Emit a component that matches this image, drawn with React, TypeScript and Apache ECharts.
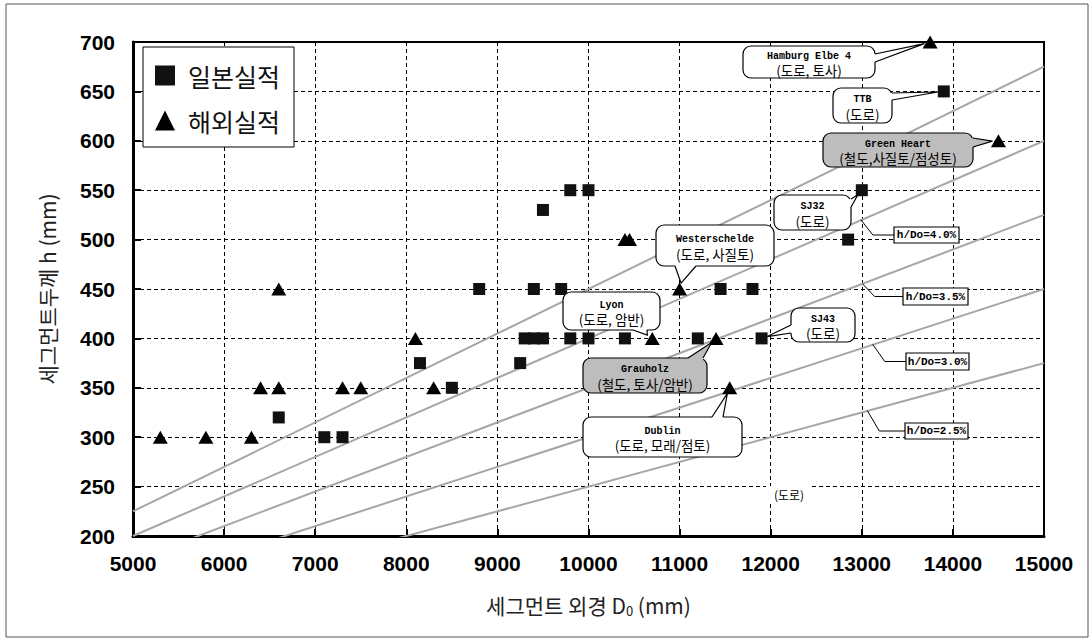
import { useEffect, useRef } from 'react';
import * as echarts from 'echarts';

// ---------------- data ----------------
const JAPAN = '일본실적';
const OVERSEAS = '해외실적';

const japanD = [6600, 7100, 7300, 8150, 8500, 8800, 9250, 9300, 9400, 9500, 9400, 9700, 9500, 9800, 10000, 9800, 10000, 10400, 11200, 11450, 11800, 11900, 12850, 13000, 13900];
const japanH = [320, 300, 300, 375, 350, 450, 375, 400, 400, 400, 450, 450, 530, 550, 550, 400, 400, 400, 400, 450, 450, 400, 500, 550, 650];

const overseasD = [5300, 5800, 6300, 6400, 6600, 6600, 7300, 7500, 8100, 8300, 10400, 10450, 10700, 11000, 11400, 11550, 13750, 14500];
const overseasH = [300, 300, 300, 350, 350, 450, 350, 350, 400, 350, 500, 500, 400, 450, 400, 350, 700, 600];

// h/D0 reference lines (end points)
const ratioNames = ['h/Do=4.5%', 'h/Do=4.0%', 'h/Do=3.5%', 'h/Do=3.0%', 'h/Do=2.5%'];
const ratioStartD = [5000, 5000, 5000, 5000, 5000];
const ratioStartH = [225, 200, 175, 150, 125];
const ratioEndD = [15000, 15000, 15000, 15000, 15000];
const ratioEndH = [675, 600, 525, 450, 375];

// labelled reference lines
const ratioLabels = ['h/Do=4.0%', 'h/Do=3.5%', 'h/Do=3.0%', 'h/Do=2.5%'];
const ratioLabelAnchorD = [12990, 13010, 13120, 13060];
const ratioLabelAnchorH = [520, 455, 394, 327];

// project callouts
const calloutNames = ['Hamburg Elbe 4', 'TTB', 'Green Heart', 'SJ32', 'Westerschelde', 'Lyon', 'SJ43', 'Grauholz', 'Dublin'];
const calloutDetails = ['(도로, 토사)', '(도로)', '(철도,사질토/점성토)', '(도로)', '(도로, 사질토)', '(도로, 암반)', '(도로)', '(철도, 토사/암반)', '(도로, 모래/점토)'];
const calloutTargetD = [13750, 13900, 14500, 13000, 11000, 10700, 11900, 11400, 11550];
const calloutTargetH = [700, 650, 600, 550, 450, 400, 400, 400, 350];

const roadNote = '(도로)';
const xAxisTitle = '세그먼트 외경 D{sub|0} (mm)';
const yAxisTitle = '세그먼트두께 h (mm)';

// ---------------- layout (pixels) ----------------
type Side = 'right' | 'left' | 'top' | 'bottom';
const calloutLayout: { box: number[]; side: Side; base: number[]; shaded: boolean }[] = [
  { box: [743, 46, 132, 32], side: 'right', base: [54, 62], shaded: false },
  { box: [833, 88, 59, 35], side: 'right', base: [93, 100], shaded: false },
  { box: [823, 133, 150, 34], side: 'right', base: [138, 147], shaded: true },
  { box: [774, 195, 77, 35], side: 'right', base: [199, 207], shaded: false },
  { box: [656, 225, 118, 41], side: 'bottom', base: [675, 696], shaded: false },
  { box: [563, 292, 97, 38], side: 'bottom', base: [633, 647], shaded: false },
  { box: [791, 308, 64, 34], side: 'left', base: [325, 333], shaded: false },
  { box: [583, 358, 124, 35], side: 'top', base: [688, 703], shaded: true },
  { box: [583, 417, 159, 40], side: 'top', base: [712, 723], shaded: false },
];
const ratioLabelBoxes = [
  [894, 227, 65, 16],
  [903, 288, 65, 17],
  [906, 353, 63, 17],
  [905, 423, 63, 16],
];

const LATIN = "'Liberation Mono', 'DejaVu Sans Mono', monospace";
const KOR = "'Noto Sans CJK KR', sans-serif";
const NUM = "'Liberation Sans', Arial, sans-serif";

function bubble(
  box: number[],
  side: Side,
  base: number[],
  tip: number[],
  shaded: boolean,
  name: string,
  detail: string
) {
  const [x, y, w, h] = box;
  let b1: number[], b2: number[], i1: number[], i2: number[];
  if (side === 'right') {
    b1 = [x + w, base[0]]; b2 = [x + w, base[1]]; i1 = [x + w - 3, base[0]]; i2 = [x + w - 3, base[1]];
  } else if (side === 'left') {
    b1 = [x, base[0]]; b2 = [x, base[1]]; i1 = [x + 3, base[0]]; i2 = [x + 3, base[1]];
  } else if (side === 'top') {
    b1 = [base[0], y]; b2 = [base[1], y]; i1 = [base[0], y + 3]; i2 = [base[1], y + 3];
  } else {
    b1 = [base[0], y + h]; b2 = [base[1], y + h]; i1 = [base[0], y + h - 3]; i2 = [base[1], y + h - 3];
  }
  const fill = shaded ? '#bdbdbd' : '#ffffff';
  const mid = y + h / 2;
  return [
    { type: 'rect', z: 100, shape: { x, y, width: w, height: h, r: 8 }, style: { fill, stroke: '#000', lineWidth: 1.2 } },
    { type: 'polygon', z: 101, shape: { points: [i1, b1, tip, b2, i2] }, style: { fill, stroke: null } },
    { type: 'polyline', z: 102, shape: { points: [b1, tip, b2] }, style: { fill: null, stroke: '#000', lineWidth: 1.2 } },
    {
      type: 'text', z: 103, x: x + w / 2, y: mid - 6,
      style: { text: name, fill: '#000', fontSize: 10, fontWeight: 'bold', fontFamily: LATIN, align: 'center', verticalAlign: 'middle' },
    },
    {
      type: 'text', z: 103, x: x + w / 2, y: mid + 8,
      style: { text: detail, fill: '#000', fontSize: 13.5, fontFamily: KOR, align: 'center', verticalAlign: 'middle' },
    },
  ];
}

export default function App() {
  const ref = useRef<HTMLDivElement>(null);

  useEffect(() => {
    if (!ref.current) return;
    const chart = echarts.init(ref.current, null, { renderer: 'svg' });

    const ratioSeries = ratioNames.map((n, i) => ({
      name: n,
      type: 'line',
      data: [
        [ratioStartD[i], ratioStartH[i]],
        [ratioEndD[i], ratioEndH[i]],
      ],
      symbol: 'none',
      clip: true,
      silent: true,
      z: 1,
      lineStyle: { color: '#a6a6a6', width: 2 },
    }));

    const option: any = {
      animation: false,
      backgroundColor: '#ffffff',
      grid: { left: 133, right: 48, top: 42, bottom: 106, show: true, borderColor: '#000', borderWidth: 2, containLabel: false, outerBoundsMode: 'none' },
      legend: {
        data: [
          { name: JAPAN, icon: 'rect' },
          { name: OVERSEAS, icon: 'triangle' },
        ],
        orient: 'vertical',
        left: 143,
        top: 47,
        itemWidth: 20,
        itemHeight: 20,
        itemGap: 20,
        padding: [16, 14, 14, 12],
        backgroundColor: '#fff',
        borderColor: '#000',
        borderWidth: 1,
        textStyle: { fontSize: 25, color: '#111', fontFamily: KOR, padding: [0, 0, 0, 8] },
      },
      xAxis: {
        type: 'value',
        min: 5000,
        max: 15000,
        interval: 1000,
        name: xAxisTitle,
        nameLocation: 'middle',
        nameGap: 56,
        nameTextStyle: {
          fontSize: 21,
          color: '#222',
          fontFamily: KOR,
          rich: { sub: { fontSize: 13, fontFamily: KOR, color: '#222', verticalAlign: 'bottom', padding: [12, 0, 0, 0] } },
        },
        axisLine: { show: true, lineStyle: { color: '#000', width: 3 } },
        axisTick: { show: true, inside: true, length: 7, lineStyle: { color: '#000', width: 2 } },
        axisLabel: { color: '#000', fontSize: 21, fontWeight: 'bold', fontFamily: NUM, margin: 17, formatter: (v: number) => String(v) },
        splitLine: { show: true, lineStyle: { color: '#000', width: 1, type: [4, 3] } },
      },
      yAxis: {
        type: 'value',
        min: 200,
        max: 700,
        interval: 50,
        name: yAxisTitle,
        nameLocation: 'middle',
        nameGap: 76,
        nameRotate: 90,
        nameTextStyle: { fontSize: 21, color: '#222', fontFamily: KOR },
        axisLine: { show: true, lineStyle: { color: '#000', width: 3 } },
        axisTick: { show: true, inside: true, length: 8, lineStyle: { color: '#000', width: 2 } },
        axisLabel: { color: '#000', fontSize: 21, fontWeight: 'bold', fontFamily: NUM, margin: 18, formatter: (v: number) => String(v) },
        splitLine: { show: true, lineStyle: { color: '#000', width: 1, type: [4, 3] } },
      },
      series: [
        ...ratioSeries,
        {
          name: JAPAN,
          type: 'scatter',
          symbol: 'rect',
          symbolSize: 12,
          z: 5,
          itemStyle: { color: '#111', opacity: 1 },
          data: japanD.map((d, i) => [d, japanH[i]]),
        },
        {
          name: OVERSEAS,
          type: 'scatter',
          symbol: 'triangle',
          symbolSize: [15, 13],
          z: 5,
          itemStyle: { color: '#000', opacity: 1 },
          data: overseasD.map((d, i) => [d, overseasH[i]]),
        },
      ],
    };
    chart.setOption(option);

    const toPx = (p: number[]) => chart.convertToPixel({ gridIndex: 0 }, p) as number[];
    const graphics: any[] = [];

    // outer frame
    graphics.push({ type: 'rect', z: 0, silent: true, shape: { x: 6, y: 4, width: 1082, height: 633 }, style: { fill: null, stroke: '#555', lineWidth: 1 } });

    // ratio labels with leaders
    ratioLabels.forEach((t, i) => {
      const [bx, by, bw, bh] = ratioLabelBoxes[i];
      const s = toPx([ratioLabelAnchorD[i], ratioLabelAnchorH[i]]);
      const midY = by + bh / 2;
      graphics.push({
        type: 'polyline', z: 90,
        shape: { points: [s, [s[0] + 12, midY], [bx, midY]] },
        style: { fill: null, stroke: '#000', lineWidth: 1 },
      });
      graphics.push({ type: 'rect', z: 90, shape: { x: bx, y: by, width: bw, height: bh }, style: { fill: '#fff', stroke: '#000', lineWidth: 1.2 } });
      graphics.push({
        type: 'text', z: 91, x: bx + bw / 2, y: midY,
        style: { text: t, fill: '#000', fontSize: 11, fontWeight: 'bold', fontFamily: LATIN, align: 'center', verticalAlign: 'middle' },
      });
    });

    // callouts
    calloutNames.forEach((n, i) => {
      const L = calloutLayout[i];
      const p = toPx([calloutTargetD[i], calloutTargetH[i]]);
      let mx: number, my: number;
      const [x, y, w, h] = L.box;
      if (L.side === 'right') { mx = x + w; my = (L.base[0] + L.base[1]) / 2; }
      else if (L.side === 'left') { mx = x; my = (L.base[0] + L.base[1]) / 2; }
      else if (L.side === 'top') { mx = (L.base[0] + L.base[1]) / 2; my = y; }
      else { mx = (L.base[0] + L.base[1]) / 2; my = y + h; }
      const dx = mx - p[0];
      const dy = my - p[1];
      const len = Math.sqrt(dx * dx + dy * dy) || 1;
      const tip = [p[0] + (dx / len) * 6, p[1] + (dy / len) * 6];
      graphics.push(...bubble(L.box, L.side, L.base, tip, L.shaded, n, calloutDetails[i]));
    });

    // stray road note
    graphics.push({ type: 'rect', z: 90, shape: { x: 766, y: 486, width: 46, height: 15 }, style: { fill: '#fff', stroke: null } });
    graphics.push({
      type: 'text', z: 91, x: 789, y: 494,
      style: { text: roadNote, fill: '#000', fontSize: 12, fontFamily: KOR, align: 'center', verticalAlign: 'middle' },
    });

    chart.setOption({ graphic: graphics });

    return () => chart.dispose();
  }, []);

  return <div ref={ref} style={{ position: 'fixed', left: 0, top: 0, width: 1092, height: 642, background: '#fff' }} />;
}
